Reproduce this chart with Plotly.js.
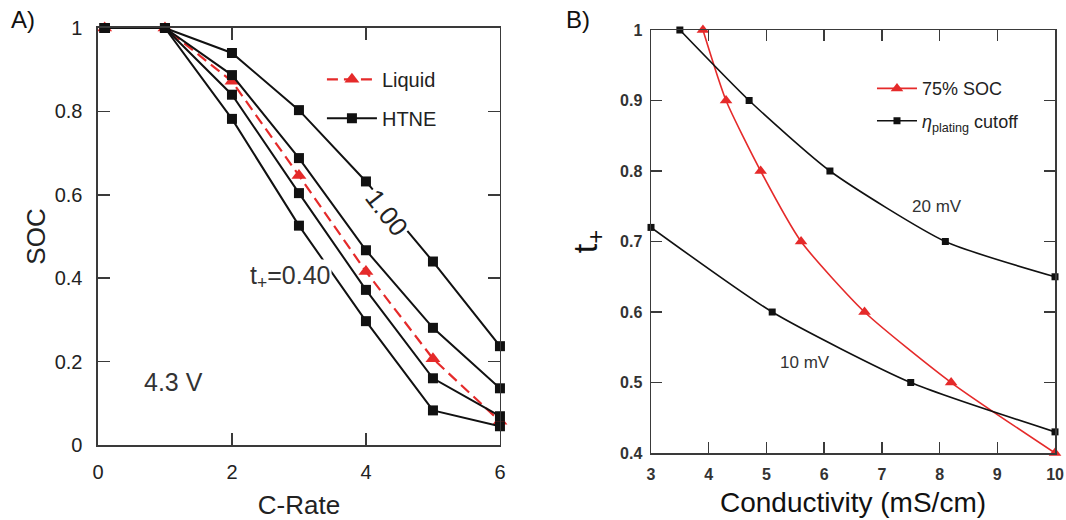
<!DOCTYPE html>
<html>
<head>
<meta charset="utf-8">
<script src="https://cdn.plot.ly/plotly-3.0.1.min.js"></script>
<style>
html,body{margin:0;padding:0;background:#fff;}
#chart{width:1066px;height:520px;}
</style>
</head>
<body>
<div id="chart"></div>
<script>
// ---------- Panel A data ----------
const cRate = [0.1, 1, 2, 3, 4, 5, 6];
const liquidSOC = [1, 1, 0.872, 0.646, 0.416, 0.207, 0.057];
const htneT100 = [1, 1, 0.94, 0.803, 0.632, 0.44, 0.237];
const htneT2 = [1, 1, 0.887, 0.688, 0.467, 0.281, 0.136];
const htneT3 = [1, 1, 0.84, 0.604, 0.372, 0.16, 0.069];
const htneT040 = [1, 1, 0.782, 0.526, 0.297, 0.083, 0.045];
const aXTicks = [0, 2, 4, 6];
const aXTickText = ['0', '2', '4', '6'];
const aYTicks = [0, 0.2, 0.4, 0.6, 0.8, 1];
const aYTickText = ['0', '0.2', '0.4', '0.6', '0.8', '1'];

// ---------- Panel B data ----------
const cond75 = [3.9, 4.3, 4.9, 5.6, 6.7, 8.2, 10];
const tPlus75 = [1.0, 0.9, 0.8, 0.7, 0.6, 0.5, 0.4];
const cond20 = [3.5, 4.7, 6.1, 8.1, 10];
const tPlus20 = [1.0, 0.9, 0.8, 0.7, 0.65];
const cond10 = [3.0, 5.1, 7.5, 10];
const tPlus10 = [0.72, 0.6, 0.5, 0.43];
const bXTicks = [3, 4, 5, 6, 7, 8, 9, 10];
const bXTickText = ['3', '4', '5', '6', '7', '8', '9', '10'];
const bYTicks = [0.4, 0.5, 0.6, 0.7, 0.8, 0.9, 1];
const bYTickText = ['0.4', '0.5', '0.6', '0.7', '0.8', '0.9', '1'];

const RED = '#e52a2a';
const BLK = '#111111';
const FONT = 'Liberation Sans, Arial, sans-serif';

function htne(y, show) {
  return {
    x: cRate, y: y, xaxis: 'x', yaxis: 'y', type: 'scatter', mode: 'lines+markers',
    name: 'HTNE', legend: 'legend', legendgroup: 'htne', showlegend: show,
    line: {color: BLK, width: 2},
    marker: {symbol: 'square', size: 10, color: BLK},
    cliponaxis: false
  };
}

const traces = [
  {
    x: cRate, y: liquidSOC, xaxis: 'x', yaxis: 'y', type: 'scatter', mode: 'lines+markers',
    name: 'Liquid', legend: 'legend', legendgroup: 'liq',
    line: {color: RED, width: 2.2, dash: '11px,6px'},
    marker: {symbol: 'triangle-up', size: 13, color: RED},
    cliponaxis: false
  },
  htne(htneT100, true),
  htne(htneT2, false),
  htne(htneT3, false),
  htne(htneT040, false),
  {
    x: cond75, y: tPlus75, xaxis: 'x2', yaxis: 'y2', type: 'scatter', mode: 'lines+markers',
    name: '75% SOC', legend: 'legend2', legendgroup: 'soc',
    line: {color: RED, width: 1.6, shape: 'spline', smoothing: 0.6},
    marker: {symbol: 'triangle-up', size: 11, color: RED},
    cliponaxis: false
  },
  {
    x: cond20, y: tPlus20, xaxis: 'x2', yaxis: 'y2', type: 'scatter', mode: 'lines+markers',
    name: '<i>η</i><sub>plating</sub> cutoff', legend: 'legend2', legendgroup: 'eta',
    line: {color: BLK, width: 1.6, shape: 'spline', smoothing: 0.6},
    marker: {symbol: 'square', size: 7, color: BLK},
    cliponaxis: false
  },
  {
    x: cond10, y: tPlus10, xaxis: 'x2', yaxis: 'y2', type: 'scatter', mode: 'lines+markers',
    name: '10 mV', legend: 'legend2', legendgroup: 'eta', showlegend: false,
    line: {color: BLK, width: 1.6, shape: 'spline', smoothing: 0.6},
    marker: {symbol: 'square', size: 7, color: BLK},
    cliponaxis: false
  }
];

const axisCommon = {
  showline: true, linecolor: '#3a3a3a', linewidth: 1.5, mirror: 'ticks',
  ticks: 'inside', tickcolor: '#3a3a3a', tickwidth: 1.5,
  showgrid: false, zeroline: false, tickmode: 'array', automargin: false
};

const layout = {
  width: 1066, height: 520,
  margin: {l: 0, r: 0, t: 0, b: 0},
  paper_bgcolor: '#ffffff', plot_bgcolor: '#ffffff',
  font: {family: FONT, color: '#222'},
  showlegend: true,
  xaxis: Object.assign({}, axisCommon, {
    domain: [0.0919, 0.4690], range: [0, 6], anchor: 'y',
    tickvals: aXTicks, ticktext: aXTickText, ticklen: 12,
    tickfont: {size: 20, color: '#222'}, ticklabelstandoff: 8,
    title: {text: 'C-Rate', font: {size: 26, color: '#222'}, standoff: 15}
  }),
  yaxis: Object.assign({}, axisCommon, {
    domain: [0.1442, 0.9462], range: [0, 1], anchor: 'x',
    tickvals: aYTicks, ticktext: aYTickText, ticklen: 12,
    tickfont: {size: 20, color: '#222'}, ticklabelstandoff: 10,
    title: {text: 'SOC', font: {size: 26, color: '#222'}, standoff: 1}
  }),
  xaxis2: Object.assign({}, axisCommon, {
    domain: [0.6107, 0.9897], range: [3, 10], anchor: 'y2',
    tickvals: bXTicks, ticktext: bXTickText, ticklen: 11,
    tickfont: {size: 16, color: '#333', weight: 'bold'}, ticklabelstandoff: 6,
    title: {text: 'Conductivity (mS/cm)', font: {size: 28, color: '#111'}, standoff: 10}
  }),
  yaxis2: Object.assign({}, axisCommon, {
    domain: [0.1288, 0.9423], range: [0.4, 1], anchor: 'x2',
    tickvals: bYTicks, ticktext: bYTickText, ticklen: 11,
    tickfont: {size: 16, color: '#333', weight: 'bold'}, ticklabelstandoff: 4,
    title: {text: 't<sub>+</sub>', font: {size: 34, color: '#111'}, standoff: 12}
  }),
  legend: {
    x: 0.302, y: 0.885, xanchor: 'left', yanchor: 'top',
    bgcolor: 'rgba(0,0,0,0)', borderwidth: 0,
    font: {size: 20, color: '#222', family: FONT},
    traceorder: 'grouped', tracegroupgap: 10, itemwidth: 50
  },
  legend2: {
    x: 0.818, y: 0.865, xanchor: 'left', yanchor: 'top',
    bgcolor: 'rgba(0,0,0,0)', borderwidth: 0,
    font: {size: 18, color: '#222', family: FONT},
    traceorder: 'grouped', tracegroupgap: 6, itemwidth: 40
  },
  annotations: [
    {text: 'A)', xref: 'paper', yref: 'paper', x: 0.008, y: 0.962, xanchor: 'left', yanchor: 'middle',
     showarrow: false, font: {size: 24, color: '#111'}},
    {text: 'B)', xref: 'paper', yref: 'paper', x: 0.529, y: 0.962, xanchor: 'left', yanchor: 'middle',
     showarrow: false, font: {size: 24, color: '#111'}},
    {text: '4.3 V', xref: 'x', yref: 'y', x: 1.13, y: 0.151, showarrow: false,
     font: {size: 25, color: '#333'}},
    {text: 't<sub>+</sub>=0.40', xref: 'x', yref: 'y', x: 2.87, y: 0.403, showarrow: false,
     bgcolor: '#ffffff', font: {size: 25, color: '#333'}},
    {text: '1.00', xref: 'x', yref: 'y', x: 4.31, y: 0.556, showarrow: false, textangle: 52,
     bgcolor: '#ffffff', font: {size: 26, color: '#222'}},
    {text: '20 mV', xref: 'x2', yref: 'y2', x: 7.96, y: 0.749, showarrow: false,
     font: {size: 17, color: '#333'}},
    {text: '10 mV', xref: 'x2', yref: 'y2', x: 5.67, y: 0.529, showarrow: false,
     font: {size: 17, color: '#333'}}
  ]
};

Plotly.newPlot('chart', traces, layout, {displayModeBar: false, staticPlot: true});
</script>
</body>
</html>
